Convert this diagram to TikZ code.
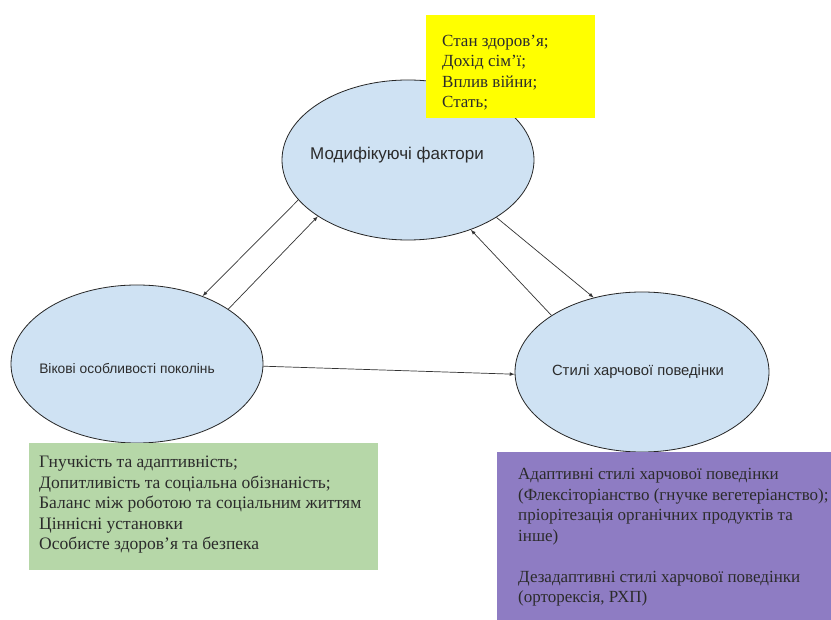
\documentclass[tikz,border=0pt]{standalone}
\usepackage{fontspec}
\setmainfont{Liberation Serif}
\newfontfamily\ovalfont{Liberation Sans}
\usetikzlibrary{shapes.geometric}

\definecolor{ovalblue}{HTML}{CFE2F3}
\definecolor{boxyellow}{HTML}{FFFF00}
\definecolor{boxgreen}{HTML}{B6D7A8}
\definecolor{boxpurple}{HTML}{8E7CC3}
\definecolor{inkgray}{HTML}{2B2B2B}

\tikzset{
  factor/.style={ellipse, draw=black!85, fill=ovalblue, line width=0.8pt, inner sep=0pt},
  factortext/.style={inner sep=0pt, text=inkgray, font=\ovalfont\fontsize{#1}{16}\selectfont},
  listbox/.style={rectangle, inner sep=0pt, anchor=north west},
  listtext/.style={anchor=west, align=left, inner sep=0pt, text=inkgray,
    font=\fontsize{#1}{20.5}\selectfont},
  link/.style={-latex, line width=0.7pt, draw=black!80}
}

\begin{document}
\begin{tikzpicture}[x=1pt,y=-1pt]
  \useasboundingbox[fill=white] (0,0) rectangle (831,620);

  % the three ovals
  \node[factor, minimum width=252pt, minimum height=160pt] (mod) at (408,160) {};
  \node[factor, minimum width=252pt, minimum height=158pt] (gen) at (137,364) {};
  \node[factor, minimum width=254pt, minimum height=160pt] (sty) at (642,372) {};
  \node[factortext=17] (modlabel) at ([xshift=-11pt,yshift=5pt]mod.center) {Модифікуючі фактори};
  \node[factortext=13.8] (genlabel) at ([xshift=-10pt,yshift=-5pt]gen.center) {Вікові особливості поколінь};
  \node[factortext=14.8] (stylabel) at ([xshift=-4pt]sty.center) {Стилі харчової поведінки};

  % boxes with lists
  \node[listbox, fill=boxyellow, minimum width=169pt, minimum height=103pt] (modbox) at (426,15) {};
  \node[listtext=17] (modtext) at ([xshift=16pt,yshift=-6pt]modbox.west)
    {Стан здоров’я;\\Дохід сім’ї;\\Вплив війни;\\Стать;};

  \node[listbox, fill=boxgreen, minimum width=349pt, minimum height=127pt] (genbox) at (29,443) {};
  \node[listtext=17.5] (gentext) at ([xshift=10pt,yshift=2pt]genbox.west)
    {Гнучкість та адаптивність;\\Допитливість та соціальна обізнаність;\\Баланс між роботою та соціальним життям\\Ціннісні установки\\Особисте здоров'я та безпека};

  \node[listbox, fill=boxpurple, minimum width=334pt, minimum height=168pt] (stybox) at (497,452) {};
  \node[listtext=17] (stytext) at ([xshift=21pt,yshift=-1pt]stybox.west)
    {Адаптивні стилі харчової поведінки\\(Флексіторіанство (гнучке вегетеріанство);\\пріорітезація органічних продуктів та\\інше)\\[20.5pt]Дезадаптивні стилі харчової поведінки\\(орторексія, РХП)};

  % links between the ovals
  \draw[link] (mod.200) -- (gen.46.7);
  \draw[link] (gen.31) -- (mod.212.5);
  \draw[link] (mod.327) -- (sty.123);
  \draw[link] (sty.148) -- (mod.312);
  \draw[link] (gen.-1) -- (sty.181.5);
\end{tikzpicture}
\end{document}
